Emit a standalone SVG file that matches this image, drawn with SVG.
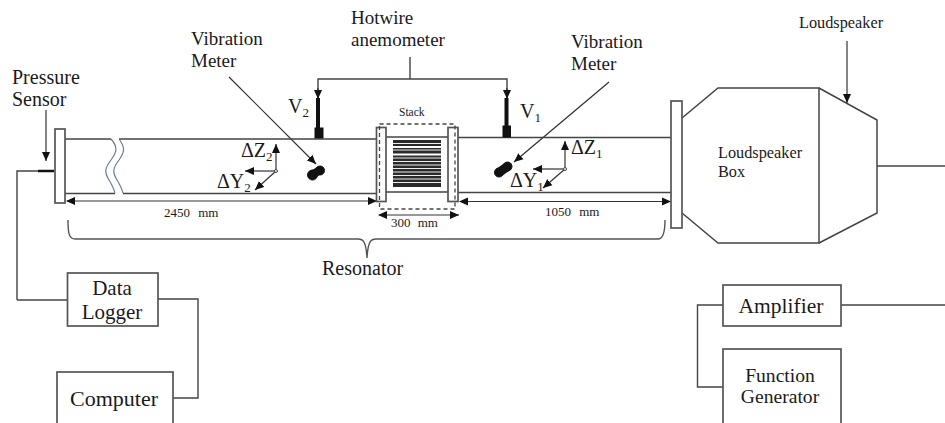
<svg xmlns="http://www.w3.org/2000/svg" width="945" height="423" viewBox="0 0 945 423">
<style>
text{font-family:"Liberation Serif","Times New Roman",serif;fill:#1a1a1a}
.l{font-size:19px}.m{font-size:20px}.s{font-size:13px}.h{font-size:16.300px}.b{font-size:21.500px}
.w{fill:none;stroke:#444;stroke-width:1.5}
.f{fill:#fff;stroke:#555;stroke-width:1.7}
.c{fill:none;stroke:#444;stroke-width:1.4}
.a{fill:none;stroke:#333;stroke-width:1.2;marker-end:url(#ah)}
.d{fill:none;stroke:#444;stroke-width:1.300;stroke-dasharray:4 3}
.k{stroke:#111;fill:#111}
</style>
<defs>
<marker id="ah" markerUnits="userSpaceOnUse" markerWidth="10" markerHeight="9" refX="9" refY="4.500" orient="auto"><path d="M0 0.500L9 4.500L0 8.500Z" fill="#111"/></marker>
<marker id="as" markerUnits="userSpaceOnUse" markerWidth="10" markerHeight="9" refX="1" refY="4.500" orient="auto"><path d="M9 0.500L0 4.500L9 8.500Z" fill="#111"/></marker>
</defs>
<rect width="945" height="423" fill="#fff"/>
<g id="connectors">
<path class="c" d="M17 300V171H38M67 300H17M158 299H198V398H173M723 305H697.5V387H723M841 305H945M877 166H945"/>
<path class="c" d="M318 98V79H507V98M410 57V79"/>
<path class="a" d="M318 88V99"/><path class="a" d="M507 88V99"/>
<path class="a" d="M46 110V161"/>
<path class="a" d="M229 77L316 164"/>
<path class="a" d="M609 82L514 162"/>
<path class="a" d="M847 41V103"/>
<path d="M68 220C68 233 69 239 75 239H358C363 239 366 241 367 258C368 241 371 239 376 239H658C663 239 665 233 665 220" fill="none" stroke="#555" stroke-width="1.400"/>
<path class="a" style="marker-start:url(#as)" d="M67 201H377"/>
<path class="a" style="marker-start:url(#as)" d="M379 215H459"/>
<path class="a" style="marker-start:url(#as)" d="M460 201.500H671"/>
<path class="a" d="M276 171V144"/><path class="a" d="M276 171H245"/><path class="a" d="M276 171L255 190"/>
<path class="a" d="M565 169V141"/><path class="a" d="M565 169H533"/><path class="a" d="M565 169L543 188"/>
</g>
<g id="resonator-tube">
<path class="w" d="M65 139H111M119 139H377M65 193.500H115M123 193.500H377M386 137H448M386 192H448M457 137.500H671M457 192.500H671"/>
<path d="M111 139C119 148 116 153 111 160C105 168 104 172 109 180C112 185 114 189 115 193M119 139C126 148 124 153 119 160C113 168 112 172 117 180C120 185 122 189 123 193" fill="none" stroke="#6a7a9a" stroke-width="1.200"/>
</g>
<g id="left-flange"><rect class="f" x="55" y="129" width="10" height="74"/></g>
<g id="pressure-sensor"><path d="M38 171H54" stroke="#111" stroke-width="2.500"/>
<text class="l" style="font-size:20px" x="12" y="84">Pressure</text><text class="l" style="font-size:20px" x="12" y="106">Sensor</text></g>
<g id="v2-probe"><path d="M318 98V128" stroke="#111" stroke-width="4"/><rect class="k" x="315" y="128" width="8" height="10"/>
<text class="m" x="288" y="113">V<tspan font-size="13" dy="4">2</tspan></text></g>
<g id="v1-probe"><path d="M506.500 98V127" stroke="#111" stroke-width="4"/><rect class="k" x="503" y="126" width="7.500" height="11"/>
<text class="m" x="520" y="118">V<tspan font-size="13" dy="4">1</tspan></text></g>
<g id="hotwire-label"><text class="l" x="351" y="24">Hotwire</text><text class="l" x="351" y="46">anemometer</text></g>
<g id="vibration-left"><circle class="k" cx="312.500" cy="175" r="5"/><circle class="k" cx="320" cy="170.500" r="4.500"/><path d="M312 175L320 170" stroke="#111" stroke-width="8"/>
<text class="l" x="191" y="45">Vibration</text><text class="l" x="191" y="67">Meter</text></g>
<g id="vibration-right"><circle class="k" cx="499" cy="172.500" r="4.500"/><circle class="k" cx="507.500" cy="166.500" r="4.500"/><path d="M499 172.500L507.500 166.500" stroke="#111" stroke-width="9"/>
<text class="l" x="571" y="48">Vibration</text><text class="l" x="571" y="70">Meter</text></g>
<g id="delta2"><text class="m" x="241" y="157">ΔZ<tspan font-size="13" dy="4">2</tspan></text><text class="m" x="217" y="188">ΔY<tspan font-size="13" dy="4">2</tspan></text></g>
<g id="delta1"><text class="m" x="571" y="154">ΔZ<tspan font-size="13" dy="4">1</tspan></text><text class="m" x="510" y="187">ΔY<tspan font-size="13" dy="4">1</tspan></text></g>
<circle cx="276" cy="171" r="1.500" fill="#fff" stroke="#444"/><circle cx="565" cy="169" r="1.500" fill="#fff" stroke="#444"/>
<g id="stack">
<rect class="f" x="376.500" y="127.500" width="9.500" height="74"/><rect class="f" x="448" y="127.500" width="10" height="74"/>
<rect class="d" x="379.500" y="124" width="75.500" height="85"/>
<rect x="393" y="140" width="48" height="47" fill="#2a2a2a"/>
<path stroke="#eee" stroke-width="1" d="M393 143.500H441M393 150H441M393 165H441M393 168.500H441M393 172H441M393 175.500H441M393 179H441M393 182.500H441M393 161.500H441M393 158H441"/>
<path stroke="#fff" stroke-width="1.800" d="M393 147H441M393 154.500H441"/>
<text class="s" style="font-size:11.500px" x="399" y="116" fill="#444">Stack</text>
</g>
<g id="dim-labels"><text class="s" x="164" y="217">2450<tspan dx="5"> mm</tspan></text><text class="s" x="391" y="227">300<tspan dx="4"> mm</tspan></text><text class="s" x="545" y="216">1050<tspan dx="5"> mm</tspan></text></g>
<g id="resonator-label"><text class="l" style="font-size:20px" x="322" y="275">Resonator</text></g>
<g id="loudspeaker-box">
<path class="w" d="M682 118L718 88H819V243H718L682 213"/>
<path class="w" d="M819 88L877 120V213L819 243"/>
<rect class="f" x="671" y="101" width="11" height="127"/>
<text class="h" x="718" y="158">Loudspeaker</text><text class="h" x="718" y="177">Box</text>
</g>
<g id="loudspeaker-label"><text class="h" x="799" y="28">Loudspeaker</text></g>
<g id="data-logger"><rect class="f" x="67.500" y="273" width="90.500" height="53"/><text class="b" style="font-size:21px" x="112" y="295" text-anchor="middle">Data</text><text class="b" style="font-size:21px" x="112" y="319" text-anchor="middle">Logger</text></g>
<g id="computer"><rect class="f" x="57" y="372" width="116" height="60"/><text class="b" style="font-size:22px" x="114" y="406" text-anchor="middle">Computer</text></g>
<g id="amplifier"><rect class="f" x="723" y="285" width="118" height="41"/><text class="b" x="781" y="313" text-anchor="middle">Amplifier</text></g>
<g id="function-generator"><rect class="f" x="723" y="349" width="118" height="84"/><text class="l" style="font-size:19.600px" x="780" y="382" text-anchor="middle">Function</text><text class="l" style="font-size:19.600px" x="780" y="403" text-anchor="middle">Generator</text></g>
</svg>
